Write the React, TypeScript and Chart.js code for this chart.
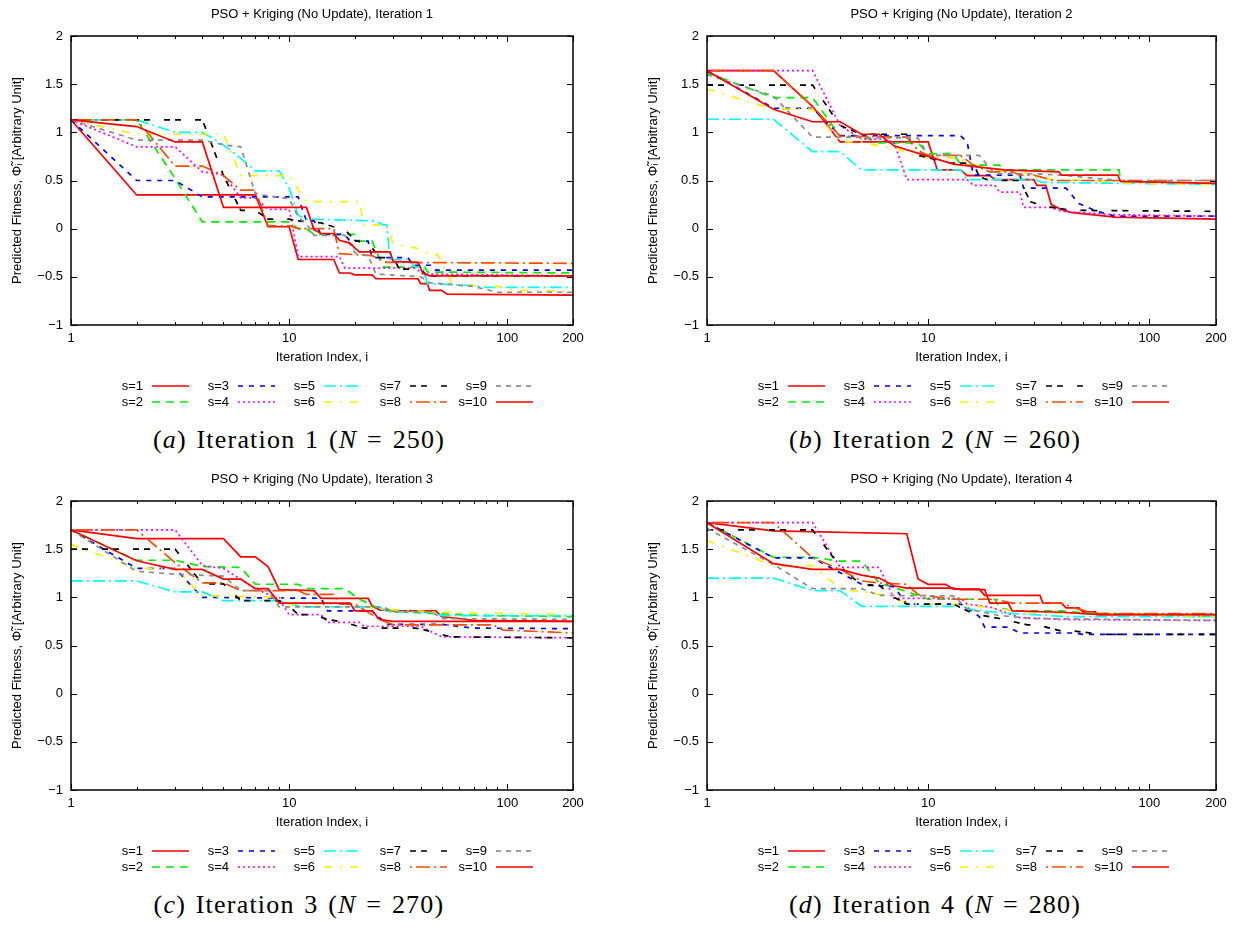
import React, { useEffect, useRef } from 'react';
import { Chart, registerables } from 'chart.js';

Chart.register(...registerables);

type Pt = [number, number];

// ---------- labels / ticks ----------
const seriesLabels = ['s=1', 's=2', 's=3', 's=4', 's=5', 's=6', 's=7', 's=8', 's=9', 's=10'];
const xTickValues = [1, 10, 100, 200];
const xMinorTicks = [2, 3, 4, 5, 6, 7, 8, 9, 20, 30, 40, 50, 60, 70, 80, 90];
const yTickValues = [-1, -0.5, 0, 0.5, 1, 1.5, 2];
const plotTitles = [
  'PSO + Kriging (No Update), Iteration 1',
  'PSO + Kriging (No Update), Iteration 2',
  'PSO + Kriging (No Update), Iteration 3',
  'PSO + Kriging (No Update), Iteration 4',
];
const captionLetters = ['a', 'b', 'c', 'd'];
const captionIterations = [1, 2, 3, 4];
const captionN = [250, 260, 270, 280];
const xAxisTitle = 'Iteration Index, i';
const yAxisTitle = 'Predicted Fitness, \u03A6\u0303\u1D62 [Arbitrary Unit]';

// ---------- Iteration 1 ----------
const it1s1: Pt[] = [[1,1.13],[2,0.35],[7,0.35],[8,0.02],[10,0.02],[11,-0.32],[16,-0.32],[17,-0.46],[19,-0.46],[20,-0.48],[24,-0.48],[25,-0.52],[39,-0.52],[40,-0.57],[43,-0.57],[44,-0.64],[50,-0.64],[53,-0.68],[200,-0.69]];
const it1s2: Pt[] = [[1,1.13],[2,1.13],[3,0.52],[4,0.07],[10,0.07],[11,0.0],[12,0.0],[13,-0.06],[20,-0.06],[21,-0.13],[24,-0.13],[27,-0.4],[42,-0.4],[43,-0.45],[200,-0.46]];
const it1s3: Pt[] = [[1,1.13],[2,0.5],[3,0.5],[4,0.33],[11,0.33],[12,0.08],[13,0.08],[14,-0.06],[18,-0.06],[19,-0.13],[23,-0.13],[24,-0.3],[35,-0.3],[37,-0.38],[45,-0.38],[47,-0.43],[200,-0.43]];
const it1s4: Pt[] = [[1,1.13],[2,0.85],[3,0.85],[4,0.59],[5,0.56],[6,0.32],[7,0.32],[8,0.2],[10,0.2],[11,-0.29],[17,-0.29],[18,-0.41],[38,-0.41],[41,-0.47],[200,-0.49]];
const it1s5: Pt[] = [[1,1.13],[2,1.13],[3,1.0],[4,1.0],[5,0.87],[6,0.73],[7,0.6],[9,0.6],[10,0.42],[11,0.14],[12,0.1],[25,0.08],[27,0.04],[28,0.04],[29,-0.32],[35,-0.32],[38,-0.4],[41,-0.4],[43,-0.57],[70,-0.59],[80,-0.61],[200,-0.61]];
const it1s6: Pt[] = [[1,1.13],[2,0.98],[5,0.98],[6,0.55],[10,0.55],[12,0.28],[21,0.28],[22,0.04],[28,0.04],[30,-0.16],[38,-0.2],[45,-0.27],[48,-0.27],[56,-0.58],[90,-0.6],[110,-0.64],[200,-0.65]];
const it1s7: Pt[] = [[1,1.13],[4,1.13],[5,0.55],[6,0.19],[7,0.19],[8,0.1],[10,0.1],[11,0.08],[14,0.06],[17,0.0],[18,-0.01],[20,-0.12],[22,-0.15],[24,-0.2],[26,-0.3],[30,-0.3],[32,-0.42],[40,-0.42],[43,-0.49],[200,-0.49]];
const it1s8: Pt[] = [[1,1.13],[2,1.13],[3,0.65],[4,0.65],[5,0.55],[6,0.4],[7,0.4],[8,0.03],[10,0.03],[11,0.0],[16,0.0],[17,-0.26],[24,-0.28],[25,-0.3],[28,-0.35],[200,-0.36]];
const it1s9: Pt[] = [[1,1.13],[2,0.92],[4,0.92],[5,0.87],[6,0.85],[7,0.36],[10,0.31],[11,0.12],[12,0.05],[13,-0.07],[18,-0.07],[20,-0.25],[23,-0.28],[25,-0.47],[40,-0.5],[44,-0.56],[70,-0.6],[90,-0.66],[200,-0.66]];
const it1s10: Pt[] = [[1,1.13],[2,1.06],[3,0.9],[4,0.9],[5,0.22],[12,0.22],[13,-0.01],[14,-0.05],[16,-0.05],[17,-0.12],[19,-0.15],[20,-0.2],[21,-0.24],[29,-0.24],[30,-0.34],[39,-0.35],[41,-0.46],[44,-0.49],[200,-0.49]];

// ---------- Iteration 2 ----------
const it2s1: Pt[] = [[1,1.64],[2,1.64],[3,1.27],[4,0.9],[10,0.9],[11,0.61],[14,0.61],[15,0.55],[19,0.55],[20,0.51],[30,0.51],[31,0.45],[34,0.45],[36,0.25],[40,0.2],[44,0.17],[70,0.12],[200,0.1]];
const it2s2: Pt[] = [[1,1.62],[2,1.36],[3,1.36],[4,0.96],[5,0.96],[6,0.89],[9,0.89],[10,0.78],[13,0.78],[14,0.67],[15,0.66],[21,0.66],[22,0.61],[73,0.61],[74,0.49],[200,0.47]];
const it2s3: Pt[] = [[1,1.64],[2,1.25],[3,1.25],[4,0.965],[14,0.965],[15,0.9],[16,0.555],[26,0.555],[27,0.42],[42,0.42],[48,0.26],[58,0.18],[70,0.13],[200,0.13]];
const it2s4: Pt[] = [[1,1.64],[3,1.64],[4,1.07],[5,0.93],[6,0.93],[7,0.9],[8,0.51],[15,0.51],[16,0.45],[20,0.45],[21,0.38],[26,0.38],[27,0.22],[36,0.22],[40,0.18],[70,0.145],[200,0.13]];
const it2s5: Pt[] = [[1,1.136],[2,1.136],[3,0.8],[4,0.8],[5,0.61],[14,0.61],[15,0.51],[30,0.51],[33,0.48],[200,0.46]];
const it2s6: Pt[] = [[1,1.45],[2,1.24],[3,1.24],[4,0.9],[5,0.9],[6,0.86],[7,0.84],[8,0.79],[9,0.75],[14,0.73],[15,0.69],[16,0.66],[21,0.6],[27,0.6],[30,0.52],[70,0.49],[80,0.47],[200,0.46]];
const it2s7: Pt[] = [[1,1.49],[3,1.49],[4,1.07],[5,0.98],[8,0.98],[9,0.76],[10,0.74],[12,0.68],[16,0.68],[17,0.54],[19,0.5],[26,0.5],[27,0.42],[29,0.28],[34,0.23],[45,0.19],[200,0.18]];
const it2s8: Pt[] = [[1,1.64],[2,1.64],[3,1.27],[4,0.96],[8,0.95],[9,0.81],[10,0.76],[14,0.76],[16,0.66],[19,0.59],[24,0.59],[26,0.555],[30,0.555],[37,0.5],[200,0.5]];
const it2s9: Pt[] = [[1,1.6],[2,1.375],[3,0.95],[4,0.95],[9,0.94],[10,0.76],[17,0.76],[20,0.57],[30,0.57],[40,0.555],[73,0.5],[200,0.5]];
const it2s10: Pt[] = [[1,1.64],[2,1.24],[3,1.11],[4,1.11],[5,0.98],[6,0.98],[7,0.86],[10,0.75],[13,0.67],[22,0.61],[39,0.59],[40,0.555],[72,0.555],[74,0.49],[200,0.47]];

// ---------- Iteration 3 ----------
const it3s1: Pt[] = [[1,1.7],[2,1.61],[5,1.61],[6,1.42],[7,1.42],[8,1.32],[9,1.08],[13,1.07],[14,0.99],[23,0.99],[24,0.91],[26,0.87],[30,0.86],[47,0.86],[50,0.8],[60,0.78],[70,0.76],[200,0.75]];
const it3s2: Pt[] = [[1,1.7],[2,1.385],[3,1.385],[4,1.32],[6,1.31],[7,1.136],[11,1.136],[12,1.09],[18,1.09],[21,0.98],[25,0.9],[31,0.85],[50,0.83],[80,0.81],[200,0.8]];
const it3s3: Pt[] = [[1,1.7],[2,1.3],[3,1.3],[4,1.0],[14,0.99],[15,0.86],[24,0.86],[26,0.79],[28,0.72],[50,0.72],[70,0.68],[200,0.675]];
const it3s4: Pt[] = [[1,1.7],[3,1.7],[4,1.33],[5,1.3],[7,1.09],[9,0.98],[10,0.82],[14,0.82],[15,0.74],[21,0.74],[22,0.7],[40,0.7],[50,0.59],[200,0.58]];
const it3s5: Pt[] = [[1,1.17],[2,1.17],[3,1.057],[4,1.057],[5,0.965],[9,0.965],[10,0.93],[12,0.9],[26,0.9],[28,0.85],[45,0.85],[50,0.81],[200,0.81]];
const it3s6: Pt[] = [[1,1.55],[2,1.3],[3,1.3],[4,1.02],[9,1.0],[10,0.93],[20,0.93],[25,0.88],[50,0.845],[200,0.82]];
const it3s7: Pt[] = [[1,1.5],[3,1.5],[4,1.14],[5,1.14],[6,0.965],[9,0.965],[10,0.91],[11,0.82],[13,0.82],[15,0.77],[18,0.74],[22,0.68],[38,0.68],[42,0.66],[55,0.59],[200,0.58]];
const it3s8: Pt[] = [[1,1.7],[2,1.7],[3,1.36],[4,1.15],[5,1.15],[6,1.07],[11,1.07],[12,1.03],[16,1.03],[17,0.93],[20,0.93],[26,0.77],[30,0.715],[86,0.715],[96,0.66],[200,0.63]];
const it3s9: Pt[] = [[1,1.7],[2,1.27],[3,1.24],[5,1.22],[6,1.07],[8,1.07],[9,0.9],[27,0.9],[30,0.85],[45,0.85],[50,0.78],[200,0.77]];
const it3s10: Pt[] = [[1,1.7],[2,1.38],[3,1.29],[4,1.29],[5,1.19],[6,1.19],[7,1.09],[8,1.09],[9,0.94],[19,0.94],[20,0.86],[24,0.86],[26,0.77],[30,0.75],[200,0.75]];

// ---------- Iteration 4 ----------
const it4s1: Pt[] = [[1,1.775],[2,1.69],[8,1.66],[9,1.19],[10,1.135],[12,1.135],[13,1.085],[17,1.085],[18,1.02],[32,1.02],[33,0.94],[40,0.94],[42,0.89],[48,0.89],[50,0.85],[57,0.85],[58,0.82],[200,0.82]];
const it4s2: Pt[] = [[1,1.775],[2,1.416],[3,1.416],[4,1.375],[5,1.375],[6,1.15],[8,1.06],[10,0.98],[20,0.98],[21,0.895],[24,0.86],[40,0.86],[50,0.84],[200,0.8]];
const it4s3: Pt[] = [[1,1.775],[2,1.41],[3,1.41],[4,1.255],[5,1.136],[7,1.11],[8,0.93],[14,0.93],[15,0.895],[17,0.8],[18,0.69],[23,0.69],[26,0.63],[45,0.63],[50,0.616],[200,0.616]];
const it4s4: Pt[] = [[1,1.775],[3,1.775],[4,1.31],[6,1.31],[7,0.99],[14,0.99],[15,0.93],[19,0.9],[26,0.79],[40,0.77],[200,0.76]];
const it4s5: Pt[] = [[1,1.2],[2,1.2],[3,1.07],[4,1.07],[5,0.907],[14,0.907],[16,0.87],[21,0.84],[42,0.8],[200,0.8]];
const it4s6: Pt[] = [[1,1.59],[2,1.33],[3,1.33],[4,1.09],[6,1.03],[7,1.02],[8,0.93],[14,0.93],[21,0.88],[30,0.84],[200,0.8]];
const it4s7: Pt[] = [[1,1.7],[3,1.7],[4,1.32],[5,1.125],[6,1.125],[7,1.0],[8,0.93],[13,0.93],[14,0.895],[16,0.83],[21,0.78],[28,0.715],[31,0.715],[40,0.65],[46,0.65],[60,0.616],[200,0.616]];
const it4s8: Pt[] = [[1,1.775],[2,1.775],[3,1.41],[4,1.29],[5,1.17],[6,1.15],[8,1.135],[9,1.03],[13,0.98],[20,0.98],[24,0.94],[40,0.94],[47,0.88],[60,0.83],[200,0.83]];
const it4s9: Pt[] = [[1,1.716],[2,1.34],[3,1.09],[5,1.09],[6,1.02],[13,1.015],[15,0.88],[21,0.81],[30,0.78],[200,0.76]];
const it4s10: Pt[] = [[1,1.775],[2,1.35],[3,1.29],[4,1.29],[5,1.23],[6,1.2],[7,1.12],[8,1.095],[13,1.095],[14,1.08],[18,1.08],[19,0.94],[23,0.94],[24,0.86],[40,0.845],[60,0.82],[200,0.82]];

const iteration1 = [it1s1, it1s2, it1s3, it1s4, it1s5, it1s6, it1s7, it1s8, it1s9, it1s10];
const iteration2 = [it2s1, it2s2, it2s3, it2s4, it2s5, it2s6, it2s7, it2s8, it2s9, it2s10];
const iteration3 = [it3s1, it3s2, it3s3, it3s4, it3s5, it3s6, it3s7, it3s8, it3s9, it3s10];
const iteration4 = [it4s1, it4s2, it4s3, it4s4, it4s5, it4s6, it4s7, it4s8, it4s9, it4s10];

// ---------- styles ----------
const seriesColors = ['#ff0000', '#00ee00', '#0000ff', '#ff00ff', '#00ffff', '#ffee00', '#000000', '#ff4d00', '#8c8c8c', '#ff0000'];
const seriesDashes: number[][] = [[], [8, 6], [5, 6], [2, 3], [12, 4, 2, 4], [8, 8, 2, 8], [6, 5, 6, 14], [2, 4, 14, 4], [5, 5], []];
const SANS = "'Liberation Sans', Arial, Helvetica, sans-serif";
const LINE_W = 1.7;

const fmtY = (v: number) => (v === 0 ? '0' : (v < 0 ? '\u2212' : '') + String(Math.abs(v)));

const framePlugin = {
  id: 'gnuFrame',
  afterDatasetsDraw(chart: any) {
    const { ctx, chartArea: a, scales } = chart;
    ctx.save();
    ctx.setLineDash([]);
    ctx.strokeStyle = '#000';
    ctx.lineWidth = 1;
    ctx.beginPath();
    for (const v of yTickValues) {
      const y = Math.round(scales.y.getPixelForValue(v)) + 0.5;
      ctx.moveTo(a.left, y);
      ctx.lineTo(a.left + 6, y);
      ctx.moveTo(a.right, y);
      ctx.lineTo(a.right - 6, y);
    }
    const xt: [number, number][] = [
      ...xTickValues.map((v) => [v, 6] as [number, number]),
      ...xMinorTicks.map((v) => [v, 3] as [number, number]),
    ];
    for (const [v, len] of xt) {
      const x = Math.round(scales.x.getPixelForValue(v)) + 0.5;
      ctx.moveTo(x, a.bottom);
      ctx.lineTo(x, a.bottom - len);
      ctx.moveTo(x, a.top);
      ctx.lineTo(x, a.top + len);
    }
    ctx.stroke();
    ctx.lineWidth = 1.5;
    ctx.strokeRect(a.left, a.top, a.right - a.left, a.bottom - a.top);
    ctx.restore();
  },
};

const legendPlugin = {
  id: 'gnuLegend',
  afterDraw(chart: any) {
    const { ctx, chartArea: a } = chart;
    chart.data.datasets.forEach((ds: any, k: number) => {
      const col = Math.floor(k / 2);
      const row = k % 2;
      const xr = a.left + 72 + col * 86;
      const y = a.bottom + 61 + row * 16;
      ctx.save();
      ctx.font = `13px ${SANS}`;
      ctx.fillStyle = '#000';
      ctx.textAlign = 'right';
      ctx.textBaseline = 'middle';
      ctx.fillText(ds.label, xr, y);
      ctx.strokeStyle = ds.borderColor;
      ctx.lineWidth = ds.borderWidth;
      ctx.setLineDash(ds.borderDash || []);
      ctx.beginPath();
      ctx.moveTo(xr + 9, y);
      ctx.lineTo(xr + 46, y);
      ctx.stroke();
      ctx.restore();
    });
  },
};

type PlotProps = {
  left: number;
  top: number;
  width: number;
  height: number;
  rightPad: number;
  title: string;
  series: Pt[][];
};

function Plot({ left, top, width, height, rightPad, title, series }: PlotProps) {
  const ref = useRef<HTMLCanvasElement | null>(null);
  useEffect(() => {
    if (!ref.current) return;
    const font = { family: SANS, size: 13, weight: 'normal' as const };
    const chart = new Chart(ref.current, {
      type: 'scatter',
      data: {
        datasets: series.map((pts, k) => ({
          label: seriesLabels[k],
          data: pts.map(([x, y]) => ({ x, y })),
          showLine: true,
          borderColor: seriesColors[k],
          backgroundColor: seriesColors[k],
          borderDash: seriesDashes[k],
          borderWidth: LINE_W,
          pointRadius: 0,
          pointHoverRadius: 0,
          fill: false,
          tension: 0,
          order: 10 - k,
        })),
      },
      options: {
        animation: false,
        responsive: false,
        maintainAspectRatio: false,
        devicePixelRatio: 1,
        events: [],
        layout: { padding: { left: 0, right: rightPad, top: 0, bottom: 57 } },
        plugins: {
          legend: { display: false },
          tooltip: { enabled: false },
          title: {
            display: true,
            text: title,
            fullSize: false,
            color: '#000',
            font,
            padding: { top: 7, bottom: 13.4 },
          },
        },
        scales: {
          x: {
            type: 'logarithmic',
            min: 1,
            max: 200,
            afterBuildTicks: (scale: any) => {
              scale.ticks = xTickValues.map((v) => ({ value: v }));
            },
            afterFit: (scale: any) => {
              scale.height = 40;
            },
            ticks: {
              autoSkip: false,
              maxRotation: 0,
              color: '#000',
              font,
              padding: 6,
              callback: (v: any) => String(v),
            },
            grid: { display: false, drawTicks: false },
            border: { display: false },
            title: { display: true, text: xAxisTitle, color: '#000', font, padding: 0 },
          },
          y: {
            type: 'linear',
            min: -1,
            max: 2,
            afterBuildTicks: (scale: any) => {
              scale.ticks = yTickValues.map((v) => ({ value: v }));
            },
            afterFit: (scale: any) => {
              scale.width = 71;
            },
            ticks: {
              color: '#000',
              font,
              padding: 8,
              callback: (v: any) => fmtY(Number(v)),
            },
            grid: { display: false, drawTicks: false },
            border: { display: false },
            title: { display: true, text: yAxisTitle, color: '#000', font, padding: { top: 10, bottom: 0 } },
          },
        },
      } as any,
      plugins: [framePlugin, legendPlugin],
    });
    return () => chart.destroy();
  }, []);
  return (
    <canvas
      ref={ref}
      width={width}
      height={height}
      style={{ position: 'absolute', left, top, width, height, display: 'block' }}
    />
  );
}

function Caption({ cx, top, idx }: { cx: number; top: number; idx: number }) {
  return (
    <div
      style={{
        position: 'absolute',
        left: cx - 200,
        top,
        width: 400,
        textAlign: 'center',
        fontFamily: "'Liberation Serif', 'Times New Roman', serif",
        fontSize: 26,
        lineHeight: '26px',
        letterSpacing: 1.2,
        wordSpacing: 2,
        color: '#000',
        whiteSpace: 'nowrap',
      }}
    >
      (<i>{captionLetters[idx]}</i>) Iteration {captionIterations[idx]} (<i>N</i> = {captionN[idx]})
    </div>
  );
}

export default function App() {
  return (
    <div
      style={{
        position: 'absolute',
        left: 0,
        top: 0,
        width: 1238,
        height: 927,
        overflow: 'hidden',
        background: '#fff',
      }}
    >
      <Plot left={0} top={0} width={620} height={422} rightPad={47} title={plotTitles[0]} series={iteration1} />
      <Plot left={636} top={0} width={602} height={422} rightPad={22} title={plotTitles[1]} series={iteration2} />
      <Plot left={0} top={465} width={620} height={422} rightPad={47} title={plotTitles[2]} series={iteration3} />
      <Plot left={636} top={465} width={602} height={422} rightPad={22} title={plotTitles[3]} series={iteration4} />
      <Caption cx={299} top={427} idx={0} />
      <Caption cx={935} top={427} idx={1} />
      <Caption cx={299} top={892} idx={2} />
      <Caption cx={935} top={892} idx={3} />
    </div>
  );
}
